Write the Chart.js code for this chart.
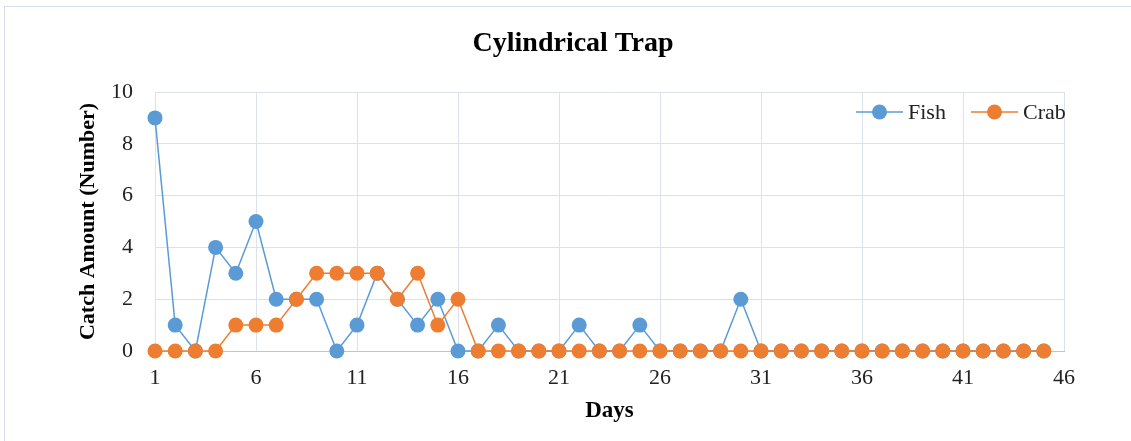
<!DOCTYPE html>
<html>
<head>
<meta charset="utf-8">
<script src="https://cdn.jsdelivr.net/npm/chart.js@4"></script>
<style>
  html, body { margin: 0; padding: 0; background: #fff; }
  #wrap { position: relative; width: 1131px; height: 441px; overflow: hidden; }
  #frame { position: absolute; left: 4px; top: 6px; width: 1140px; height: 450px; border: 1px solid #d9dde6; }
  canvas { position: absolute; left: 0; top: 0; }
</style>
</head>
<body>
<div id="wrap">
  <div id="frame"></div>
  <canvas id="chart" width="1131" height="441"></canvas>
</div>
<script>
const days = [1,2,3,4,5,6,7,8,9,10,11,12,13,14,15,16,17,18,19,20,21,22,23,24,25,26,27,28,29,30,31,32,33,34,35,36,37,38,39,40,41,42,43,44,45];
const fish = [9,1,0,4,3,5,2,2,2,0,1,3,2,1,2,0,0,1,0,0,0,1,0,0,1,0,0,0,0,2,0,0,0,0,0,0,0,0,0,0,0,0,0,0,0];
const crab = [0,0,0,0,1,1,1,2,3,3,3,3,2,3,1,2,0,0,0,0,0,0,0,0,0,0,0,0,0,0,0,0,0,0,0,0,0,0,0,0,0,0,0,0,0];
const xTicks = [1,6,11,16,21,26,31,36,41,46];
const yTicks = [0,2,4,6,8,10];

const FONT = "'Liberation Serif', 'Times New Roman', serif";
const BLUE = "#5b9bd5", ORANGE = "#ed7d31";

const toPts = arr => arr.map((v, i) => ({ x: days[i], y: v }));

const titleAndLegend = {
  id: "titleAndLegend",
  afterDraw(chart) {
    const ctx = chart.ctx;
    ctx.save();
    ctx.fillStyle = "#000";
    ctx.font = "bold 28px " + FONT;
    ctx.textAlign = "center";
    ctx.textBaseline = "middle";
    ctx.fillText("Cylindrical Trap", 573, 44);

    const items = [
      { label: "Fish", color: BLUE, x: 856 },
      { label: "Crab", color: ORANGE, x: 971 },
    ];
    const y = 112;
    ctx.font = "22px " + FONT;
    ctx.textAlign = "left";
    for (const it of items) {
      ctx.strokeStyle = it.color;
      ctx.lineWidth = 1.5;
      ctx.beginPath();
      ctx.moveTo(it.x, y);
      ctx.lineTo(it.x + 47, y);
      ctx.stroke();
      ctx.fillStyle = it.color;
      ctx.beginPath();
      ctx.arc(it.x + 23.5, y, 7.5, 0, Math.PI * 2);
      ctx.fill();
      ctx.fillStyle = "#222";
      ctx.fillText(it.label, it.x + 52, y + 1);
    }
    ctx.restore();
  }
};

new Chart(document.getElementById("chart"), {
  type: "line",
  data: {
    datasets: [
      { label: "Fish", data: toPts(fish), borderColor: BLUE, backgroundColor: BLUE, borderWidth: 1.5, pointRadius: 7.5, pointBorderWidth: 0, pointHoverRadius: 7.5, tension: 0, order: 1, clip: false },
      { label: "Crab", data: toPts(crab), borderColor: ORANGE, backgroundColor: ORANGE, borderWidth: 1.5, pointRadius: 7.5, pointBorderWidth: 0, pointHoverRadius: 7.5, tension: 0, order: 0, clip: false },
    ]
  },
  options: {
    responsive: false,
    animation: false,
    layout: { padding: { left: 4, right: 67, top: 92, bottom: 0 } },
    plugins: { legend: { display: false }, title: { display: false }, tooltip: { enabled: false } },
    scales: {
      x: {
        type: "linear", min: 1, max: 46,
        afterBuildTicks: s => { s.ticks = xTicks.map(v => ({ value: v })); },
        afterFit: s => { s.height = 90; },
        ticks: { color: "#222", font: { family: FONT, size: 22 }, padding: 14, maxRotation: 0 },
        grid: { color: "#dde2ea", drawTicks: false },
        border: { color: "#b9c6da" },
        title: { display: true, text: "Days", color: "#000", font: { family: FONT, size: 23, weight: "bold" }, padding: { top: 0, bottom: 16 } },
      },
      y: {
        min: 0, max: 10,
        afterBuildTicks: s => { s.ticks = yTicks.map(v => ({ value: v })); },
        afterFit: s => { s.width = 151; },
        ticks: { color: "#222", font: { family: FONT, size: 22 }, padding: 22 },
        grid: { color: "#dde2ea", drawTicks: false },
        border: { display: false },
        title: { display: true, text: "Catch Amount (Number)", color: "#000", font: { family: FONT, size: 22, weight: "bold" }, padding: { top: 71, bottom: 0 } },
      },
    },
  },
  plugins: [titleAndLegend],
});
</script>
</body>
</html>
